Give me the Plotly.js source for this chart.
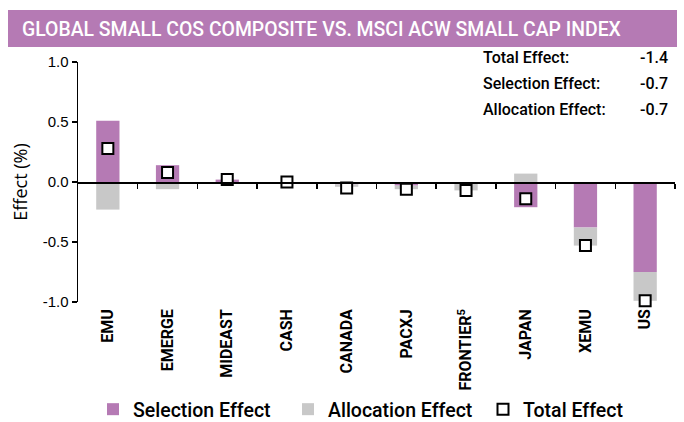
<!DOCTYPE html>
<html>
<head>
<meta charset="utf-8">
<script src="https://cdn.plot.ly/plotly-3.0.1.min.js"></script>
<style>html,body{margin:0;padding:0;background:#fff}#chart{width:684px;height:422px}</style>
</head>
<body>
<div id="chart"></div>
<script>
const categories = ["EMU","EMERGE","MIDEAST","CASH","CANADA","PACXJ","FRONTIER<sup>5</sup>","JAPAN","XEMU","US"];
const selectionEffect = [0.51, 0.14, 0.02, 0.00, -0.02, -0.03, 0.00, -0.21, -0.38, -0.75];
const allocationEffect = [-0.23, -0.06, 0.00, 0.00, -0.02, -0.03, -0.07, 0.07, -0.15, -0.24];
const totalEffect = [0.28, 0.08, 0.02, 0.00, -0.05, -0.06, -0.07, -0.14, -0.53, -0.99];
const summaryLabels = ["Total Effect:", "Selection Effect:", "Allocation Effect:"];
const summaryValues = ["-1.4", "-0.7", "-0.7"];
const titleText = "GLOBAL SMALL COS COMPOSITE VS. MSCI ACW SMALL CAP INDEX";

const PURPLE = "#b57ab4", GREY = "#c8c8c8";
const idx = categories.map((_, i) => i);
const boundaries = categories.map((_, i) => i + 0.5);

const traces = [
  {type: "bar", name: "Selection Effect", x: idx, y: selectionEffect, marker: {color: PURPLE}, width: 0.39, hoverinfo: "y"},
  {type: "bar", name: "Allocation Effect", x: idx, y: allocationEffect, marker: {color: GREY}, width: 0.39, hoverinfo: "y"},
  {type: "scatter", mode: "markers", name: "Total Effect", x: idx, y: totalEffect, cliponaxis: false,
   marker: {symbol: "square", size: 11, color: "#fff", line: {color: "#000", width: 2}}},
  {type: "scatter", mode: "markers", x: [0], y: [0], xaxis: "x2", showlegend: false, hoverinfo: "skip",
   marker: {opacity: 0}}
];

// plot area pixels
const L = 78, R = 675, T = 62, B = 302, W = 684, H = 422;
const px = x => (x - L) / (R - L);
const py = y => (B - y) / (B - T);

const annotations = [];
const rowY = [57.5, 83.5, 110];
summaryLabels.forEach((t, i) => {
  annotations.push({xref: "paper", yref: "paper", x: px(481), y: py(rowY[i]), xanchor: "left", yanchor: "middle",
    text: t, showarrow: false, font: {family: "Roboto, sans-serif", size: 16, color: "#000", weight: 500}});
  annotations.push({xref: "paper", yref: "paper", x: px(670), y: py(rowY[i]), xanchor: "right", yanchor: "middle",
    text: summaryValues[i], showarrow: false, font: {family: "Roboto, sans-serif", size: 16, color: "#000", weight: 500}});
});

const layout = {
  width: W, height: H,
  margin: {l: L, r: W - R, t: T, b: H - B, pad: 0, autoexpand: false},
  paper_bgcolor: "#fff", plot_bgcolor: "#fff",
  barmode: "relative",
  bargap: 0.6,
  title: {text: titleText, x: 22 / W, xanchor: "left", y: 1 - 29 / H, yanchor: "middle",
    font: {family: "Roboto, sans-serif", size: 19.4, color: "#fff", weight: 500}},
  shapes: [{type: "rect", xref: "paper", yref: "paper", x0: px(8), x1: px(677), y0: py(47), y1: py(10),
    fillcolor: PURPLE, line: {width: 0}, layer: "below"}],
  xaxis: {
    range: [-0.5, 9.5], tickmode: "array", tickvals: idx, ticktext: categories,
    tickangle: -90, showline: false, ticks: "", showgrid: false, zeroline: false, automargin: false,
    tickfont: {family: "Roboto, sans-serif", size: 16, color: "#000", weight: "bold"},
    ticklabelstandoff: 3,
    fixedrange: true
  },
  xaxis2: {
    overlaying: "x", anchor: "free", position: 0.5, range: [-0.5, 9.5],
    tickmode: "array", tickvals: boundaries, ticks: "outside", ticklen: 5, tickwidth: 1.5, tickcolor: "#000",
    showticklabels: false, showline: true, linecolor: "#000", linewidth: 1.5, showgrid: false, zeroline: false,
    side: "bottom"
  },
  yaxis: {
    range: [-1, 1], tickvals: [-1, -0.5, 0, 0.5, 1], ticktext: ["-1.0","-0.5","0.0","0.5","1.0"],
    showline: true, linecolor: "#000", linewidth: 1.5, ticks: "outside", ticklen: 5, tickwidth: 1.5, tickcolor: "#000",
    showgrid: false, zeroline: false, automargin: false,
    tickfont: {family: "Liberation Sans, Arial, sans-serif", size: 15, color: "#000"},
    title: {text: "Effect (%)", font: {family: "Open Sans, sans-serif", size: 18, color: "#000"}, standoff: 10}
  },
  legend: {orientation: "h", x: px(93), xanchor: "left", y: py(409.5), yanchor: "middle",
    bgcolor: "rgba(0,0,0,0)",
    font: {family: "Roboto, sans-serif", size: 19.5, color: "#000", weight: 500}, itemwidth: 30,
    entrywidth: 150, entrywidthmode: "pixels", traceorder: "normal"},
  annotations: annotations,
  showlegend: true
};

Plotly.newPlot("chart", traces, layout, {displayModeBar: false, staticPlot: true});
</script>
</body>
</html>
